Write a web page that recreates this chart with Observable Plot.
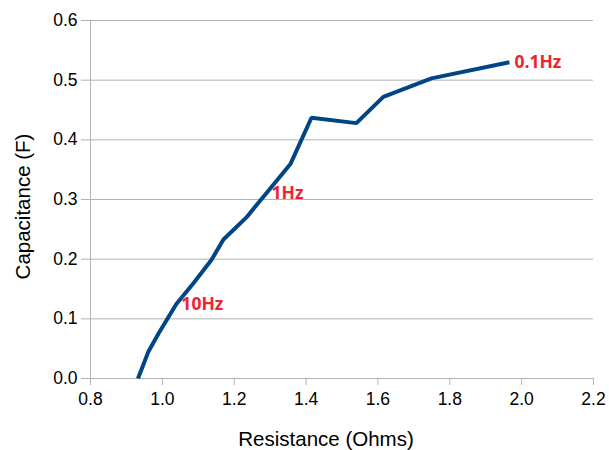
<!DOCTYPE html>
<html>
<head>
<meta charset="utf-8">
<script src="https://cdn.jsdelivr.net/npm/d3@7"></script>
<script src="https://cdn.jsdelivr.net/npm/@observablehq/plot@0.6"></script>
<style>
  html, body { margin: 0; padding: 0; background: #fff; }
  #chart svg { display: block; }
</style>
</head>
<body>
<div id="chart"></div>
<script>
// Impedance sweep: equivalent series resistance vs. capacitance
const resistance  = [0.932, 0.942, 0.961, 0.989, 1.039, 1.087, 1.137, 1.170, 1.234, 1.290, 1.357, 1.415, 1.540, 1.615, 1.749, 1.966];
const capacitance = [0.000, 0.015, 0.045, 0.075, 0.125, 0.160, 0.199, 0.233, 0.270, 0.311, 0.360, 0.437, 0.428, 0.472, 0.503, 0.530];

// Frequency annotations placed at selected sweep points
const freqLabels = ["10Hz", "1Hz", "0.1Hz"];
const freqIndex  = [4, 9, 15];

const xTicks = [0.8, 1.0, 1.2, 1.4, 1.6, 1.8, 2.0, 2.2];
const yTicks = [0.0, 0.1, 0.2, 0.3, 0.4, 0.5, 0.6];

const xTitle = "Resistance (Ohms)";
const yTitle = "Capacitance (F)";

const series = resistance.map((r, i) => ({r, c: capacitance[i]}));
const notes = freqLabels.map((t, k) => ({t, r: resistance[freqIndex[k]], c: capacitance[freqIndex[k]]}));

const grid = "#b3b3b3";

const chart = Plot.plot({
  width: 609,
  height: 450,
  marginLeft: 90,
  marginRight: 16,
  marginTop: 20,
  marginBottom: 72,
  style: {fontFamily: "'Liberation Sans', Arial, sans-serif", fontSize: "17.5px", color: "#000", background: "#fff"},
  x: {domain: [0.8, 2.2]},
  y: {domain: [0, 0.6]},
  marks: [
    Plot.gridY(yTicks, {stroke: grid, strokeOpacity: 1, strokeWidth: 1}),
    Plot.ruleX([0.8], {stroke: grid, strokeWidth: 1}),
    Plot.axisY(yTicks, {tickSize: 9, tickPadding: 4, stroke: grid, fill: "#000", strokeOpacity: 1,
      tickFormat: d => d.toFixed(1), label: null}),
    Plot.axisX(xTicks, {tickSize: 7, tickPadding: 7, stroke: grid, fill: "#000", strokeOpacity: 1,
      tickFormat: d => d.toFixed(1), label: null}),
    Plot.line(series, {x: "r", y: "c", stroke: "#004586", strokeWidth: 4, strokeLinejoin: "miter", strokeLinecap: "butt"}),
    Plot.text(notes, {x: "r", y: "c", text: "t", dx: 5, textAnchor: "start", fill: "#ee2530",
      fontWeight: "bold", fontSize: 17.5, fontFamily: "'Open Sans', sans-serif"}),
    Plot.text([yTitle], {frameAnchor: "left", textAnchor: "middle", lineAnchor: "middle", rotate: -90,
      dx: -67, dy: 7, fontSize: 20.5, fill: "#000"}),
    Plot.text([xTitle], {frameAnchor: "bottom", textAnchor: "middle", lineAnchor: "middle",
      dx: -16, dy: 61, fontSize: 20.5, fill: "#000"})
  ]
});

document.getElementById("chart").appendChild(chart);
</script>
</body>
</html>
